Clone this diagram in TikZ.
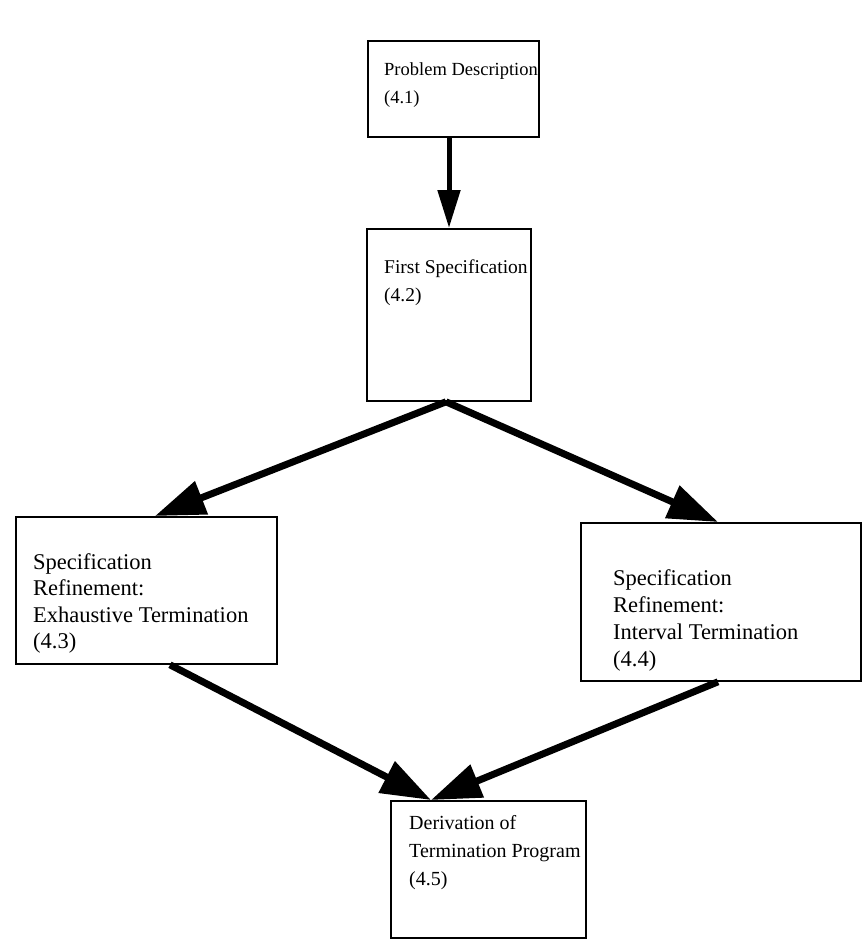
\documentclass[tikz,border=0pt]{standalone}
\usepackage{fontspec}
\setmainfont{Liberation Serif}
\usetikzlibrary{arrows.meta,calc}
\begin{document}
\begin{tikzpicture}[x=1pt,y=1pt,
  box/.style={draw=black,line width=1.8pt,inner sep=0pt,anchor=north west},
  lbl/.style={anchor=north west,inner sep=0pt,align=left},
  vflow/.style={line width=5pt,-{Triangle[length=38pt,width=22pt]}},
  dflow/.style={line width=7pt,-{Triangle[length=50pt,width=34pt]}}]
\useasboundingbox (0,0) rectangle (862,-951);

% stages of the derivation
\node[box,minimum width=171pt,minimum height=96pt] (b1) at (367,-40) {};
\node[lbl,font=\fontsize{18.5}{27.5}\selectfont] (t1) at (384,-62.7) {Problem Description\\(4.1)};

\node[box,minimum width=164pt,minimum height=172pt] (b2) at (366,-228) {};
\node[lbl,font=\fontsize{19.5}{28}\selectfont] (t2) at (384,-260) {First Specification\\(4.2)};

\node[box,minimum width=261pt,minimum height=147pt] (b3) at (15,-516) {};
\node[lbl,font=\fontsize{22.5}{26.5}\selectfont] (t3) at (33,-553) {Specification\\Refinement:\\Exhaustive Termination\\(4.3)};

\node[box,minimum width=280pt,minimum height=158pt] (b4) at (580,-522) {};
\node[lbl,font=\fontsize{22.5}{27}\selectfont] (t4) at (613,-569) {Specification\\Refinement:\\Interval Termination\\(4.4)};

\node[box,minimum width=195pt,minimum height=137pt] (b5) at (390,-800) {};
\node[lbl,font=\fontsize{20}{28}\selectfont] (t5) at (409,-815.5) {Derivation of\\Termination Program\\(4.5)};

% arrow anchor points on the box edges
\coordinate (s2) at ($(b2.south west)+(80,0)$);
\coordinate (e3) at ($(b3.north west)+(140,0)$);
\coordinate (e4) at ($(b4.north west)+(138,0)$);
\coordinate (s3) at ($(b3.south west)+(155,0)$);
\coordinate (s4) at ($(b4.south west)+(138,0)$);
\coordinate (e5) at ($(b5.north west)+(41,0)$);

\draw[vflow] ($(b1.south west)+(82,0)$) -- ($(b2.north west)+(83,0)$);
\draw[dflow] (s2) -- (e3);
\draw[dflow] (s2) -- (e4);
\draw[dflow] (s3) -- (e5);
\draw[dflow] (s4) -- (e5);
\end{tikzpicture}
\end{document}
